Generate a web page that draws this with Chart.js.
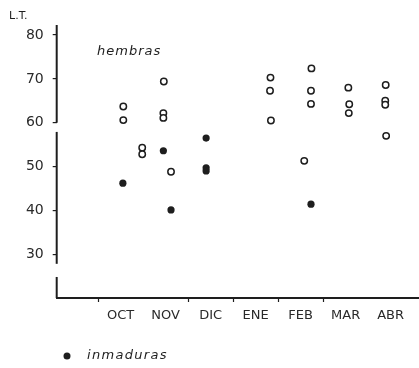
<!DOCTYPE html>
<html>
<head>
<meta charset="utf-8">
<script src="https://cdn.jsdelivr.net/npm/chart.js@4/dist/chart.umd.min.js"></script>
<style>
  html, body { margin: 0; padding: 0; background: #fff; }
  #wrap { width: 419px; height: 368px; position: relative; }
</style>
</head>
<body>
<div id="wrap"><canvas id="c"></canvas></div>
<script>
// Month categories along the x axis (one slot each, slot 0 = OCT)
const months = ['OCT', 'NOV', 'DIC', 'ENE', 'FEB', 'MAR', 'ABR'];

// Length (L.T.) of females, x = position within the month sequence
const hembrasX = [0.56, 0.56, 0.98, 0.98, 1.46, 1.45, 1.45, 1.62,
                  3.83, 3.82, 3.84, 4.74, 4.73, 4.73, 4.58,
                  5.56, 5.58, 5.57, 6.39, 6.38, 6.38, 6.40];
const hembrasY = [63.7, 60.6, 54.3, 52.8, 69.4, 62.2, 61.1, 48.8,
                  70.3, 67.3, 60.5, 72.4, 67.3, 64.3, 51.3,
                  68.0, 64.2, 62.2, 68.6, 65.0, 64.1, 57.0];

// Length of immature specimens
const inmadurasX = [0.55, 1.45, 1.62, 2.40, 2.40, 2.40, 4.73];
const inmadurasY = [46.2, 53.6, 40.1, 56.5, 49.7, 49.0, 41.4];

// Y tick values shown on the axis
const yTicks = [30, 40, 50, 60, 70, 80];

const ink = '#1e1e1e';
const toPoints = (xs, ys) => xs.map((x, i) => ({ x: x, y: ys[i] }));

// Broken y axis, x-axis boundary ticks and the free-floating labels
const decorations = {
  id: 'decorations',
  afterDraw(chart) {
    const ctx = chart.ctx;
    const xs = chart.scales.x, ys = chart.scales.y;
    const ax = chart.chartArea.left;
    ctx.save();
    ctx.strokeStyle = ink;
    ctx.lineWidth = 2;
    ctx.lineCap = 'butt';
    [[82.3, 60], [57.9, 27.8], [24.8, 20]].forEach(([a, b]) => {
      ctx.beginPath();
      ctx.moveTo(ax, ys.getPixelForValue(a));
      ctx.lineTo(ax, ys.getPixelForValue(b));
      ctx.stroke();
    });
    // month boundary ticks under the x axis
    ctx.lineWidth = 1.2;
    const yb = chart.chartArea.bottom;
    [0, 2, 3, 4, 5].forEach(v => {
      const px = Math.round(xs.getPixelForValue(v)) + 0.5;
      ctx.beginPath();
      ctx.moveTo(px, yb);
      ctx.lineTo(px, yb + 4);
      ctx.stroke();
    });

    ctx.fillStyle = ink;
    ctx.textBaseline = 'middle';
    ctx.textAlign = 'left';
    // axis caption
    ctx.font = '11px "DejaVu Sans"';
    ctx.fillText('L.T.', 9, 16);
    // series caption
    ctx.font = 'italic 13px "DejaVu Sans"';
    ctx.letterSpacing = '1px';
    ctx.fillText('hembras', 97, 52);
    // legend entry for filled dots
    ctx.beginPath();
    ctx.arc(67, 356, 3.5, 0, Math.PI * 2);
    ctx.fill();
    ctx.letterSpacing = '1.3px';
    ctx.fillText('inmaduras', 87, 356);
    ctx.restore();
  }
};

new Chart(document.getElementById('c'), {
  type: 'scatter',
  data: {
    datasets: [
      {
        label: 'hembras',
        data: toPoints(hembrasX, hembrasY),
        pointStyle: 'circle',
        pointRadius: 3.2,
        pointBorderWidth: 1.5,
        pointBorderColor: ink,
        pointBackgroundColor: '#ffffff',
        pointHoverRadius: 3.2
      },
      {
        label: 'inmaduras',
        data: toPoints(inmadurasX, inmadurasY),
        pointStyle: 'circle',
        pointRadius: 3.6,
        pointBorderWidth: 0,
        pointBackgroundColor: ink,
        pointHoverRadius: 3.6
      }
    ]
  },
  options: {
    responsive: true,
    maintainAspectRatio: false,
    animation: false,
    events: [],
    layout: { autoPadding: false, padding: { left: 0, right: 0, top: 25, bottom: 0 } },
    plugins: {
      legend: { display: false },
      tooltip: { enabled: false }
    },
    scales: {
      x: {
        type: 'linear',
        min: -0.92,
        max: 7.13,
        afterBuildTicks(scale) {
          scale.ticks = months.map((m, i) => ({ value: i + 0.5 }));
        },
        afterFit(scale) { scale.height = 70; },
        ticks: {
          autoSkip: false,
          maxRotation: 0,
          padding: 10,
          color: '#2a2a2a',
          font: { family: 'DejaVu Sans', size: 13 },
          callback: (v, i) => months[i]
        },
        grid: { display: false, drawTicks: false },
        border: { display: true, color: ink, width: 2 }
      },
      y: {
        type: 'linear',
        min: 20,
        max: 82.3,
        afterBuildTicks(scale) {
          scale.ticks = yTicks.map(v => ({ value: v }));
        },
        afterFit(scale) { scale.width = 56.7; },
        ticks: {
          padding: 9,
          color: '#2a2a2a',
          font: { family: 'DejaVu Sans', size: 14 }
        },
        grid: {
          display: true,
          drawOnChartArea: false,
          drawTicks: true,
          tickLength: 4,
          color: ink,
          lineWidth: 1.2
        },
        border: { display: false }
      }
    }
  },
  plugins: [decorations]
});
</script>
</body>
</html>
